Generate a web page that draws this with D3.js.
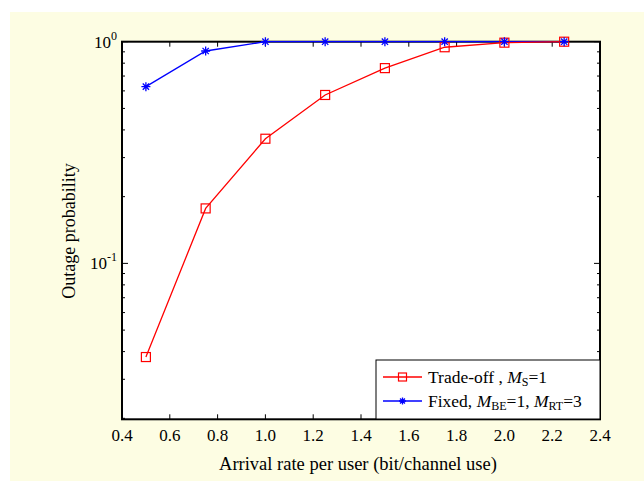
<!DOCTYPE html>
<html><head><meta charset="utf-8">
<script src="https://cdn.jsdelivr.net/npm/d3@7"></script>
<style>body{margin:0;background:#fff}svg{display:block}text{font-family:"Liberation Serif","Times New Roman",serif;}</style>
</head><body>
<script>
const xValues = [0.5, 0.75, 1.0, 1.25, 1.5, 1.75, 2.0, 2.25];
const tradeOff = [0.0378, 0.177, 0.365, 0.575, 0.76, 0.944, 0.99, 1.0];
const fixedAlloc = [0.627, 0.908, 1.0, 1.0, 1.0, 1.0, 1.0, 1.0];
const xTicks = [0.4, 0.6, 0.8, 1.0, 1.2, 1.4, 1.6, 1.8, 2.0, 2.2, 2.4];
const yMajor = [1, 0.1];
const yMinor = [0.02,0.03,0.04,0.05,0.06,0.07,0.08,0.09,0.2,0.3,0.4,0.5,0.6,0.7,0.8,0.9];

const W = 644, H = 481;
const svg = d3.select("body").append("svg").attr("width", W).attr("height", H);
svg.append("rect").attr("x",10).attr("y",12).attr("width",W-10).attr("height",H-12).attr("fill","#fdfde3");

const L=122, R=600, T=41.7, B=419.3;
const x = d3.scaleLinear().domain([0.4,2.4]).range([L,R]);
const y = d3.scaleLog().domain([0.0198,1]).range([B,T]);

svg.append("rect").attr("x",L).attr("y",T).attr("width",R-L).attr("height",B-T).attr("fill","#fff");

const g = svg.append("g");
const tk = 5, tkm = 3;
xTicks.forEach(v=>{
  g.append("line").attr("x1",x(v)).attr("x2",x(v)).attr("y1",B).attr("y2",B-tk).attr("stroke","#000");
  g.append("line").attr("x1",x(v)).attr("x2",x(v)).attr("y1",T).attr("y2",T+tk).attr("stroke","#000");
  svg.append("text").attr("x",x(v)).attr("y",441).attr("text-anchor","middle").attr("font-size",17).attr("fill","#000").text(v.toFixed(1));
});
yMajor.forEach(v=>{
  g.append("line").attr("x1",L).attr("x2",L+tk+1).attr("y1",y(v)).attr("y2",y(v)).attr("stroke","#000");
  g.append("line").attr("x1",R).attr("x2",R-tk-1).attr("y1",y(v)).attr("y2",y(v)).attr("stroke","#000");
  const e = Math.round(Math.log10(v));
  const t = svg.append("text").attr("x",117).attr("y",y(v)+6).attr("text-anchor","end").attr("font-size",17).attr("fill","#000");
  t.append("tspan").text("10");
  t.append("tspan").attr("dy",-8).attr("font-size",12).text(String(e));
});
yMinor.forEach(v=>{
  g.append("line").attr("x1",L).attr("x2",L+tkm).attr("y1",y(v)).attr("y2",y(v)).attr("stroke","#000");
  g.append("line").attr("x1",R).attr("x2",R-tkm).attr("y1",y(v)).attr("y2",y(v)).attr("stroke","#000");
});
g.append("rect").attr("x",L).attr("y",T).attr("width",R-L).attr("height",B-T).attr("fill","none").attr("stroke","#000").attr("stroke-width",2);

const line = d3.line().x(d=>x(d[0])).y(d=>y(d[1]));
const redData = xValues.map((v,i)=>[v,tradeOff[i]]);
const blueData = xValues.map((v,i)=>[v,fixedAlloc[i]]);
const red="#ff0000", blue="#0000ff";

function star(sel, cx, cy, s){
  sel.append("path").attr("d",`M${cx-s},${cy}H${cx+s}M${cx},${cy-s}V${cy+s}M${cx-s*0.7},${cy-s*0.7}L${cx+s*0.7},${cy+s*0.7}M${cx-s*0.7},${cy+s*0.7}L${cx+s*0.7},${cy-s*0.7}`)
    .attr("stroke",blue).attr("stroke-width",1.3).attr("fill","none");
}
function square(sel, cx, cy, s){
  sel.append("rect").attr("x",cx-s).attr("y",cy-s).attr("width",2*s).attr("height",2*s).attr("fill","none").attr("stroke",red).attr("stroke-width",1.2);
}

svg.append("path").datum(blueData).attr("d",line).attr("fill","none").attr("stroke",blue).attr("stroke-width",1.3);
svg.append("path").datum(redData).attr("d",line).attr("fill","none").attr("stroke",red).attr("stroke-width",1.3);
redData.forEach(d=>square(svg, x(d[0]), y(d[1]), 4.5));
blueData.forEach(d=>star(svg, x(d[0]), y(d[1]), 4.5));

const lg = svg.append("g");
lg.append("rect").attr("x",376).attr("y",360).attr("width",224).attr("height",59).attr("fill","#fff").attr("stroke","#000").attr("stroke-width",1);
lg.append("line").attr("x1",383).attr("x2",422).attr("y1",377).attr("y2",377).attr("stroke",red).attr("stroke-width",1.3);
square(lg, 402.5, 377, 4);
lg.append("line").attr("x1",383).attr("x2",422).attr("y1",401).attr("y2",401).attr("stroke",blue).attr("stroke-width",1.3);
star(lg, 402.5, 401, 3.5);
const fs = 17.5, sfs = 12;
const t1 = lg.append("text").attr("x",428).attr("y",383).attr("font-size",fs).attr("fill","#000");
t1.append("tspan").text("Trade-off , ");
t1.append("tspan").attr("font-style","italic").text("M");
t1.append("tspan").attr("font-size",sfs).attr("dy",3).text("S");
t1.append("tspan").attr("dy",-3).text("=1");
const t2 = lg.append("text").attr("x",428).attr("y",407).attr("font-size",fs).attr("fill","#000");
t2.append("tspan").text("Fixed, ");
t2.append("tspan").attr("font-style","italic").text("M");
t2.append("tspan").attr("font-size",sfs).attr("dy",3).text("BE");
t2.append("tspan").attr("dy",-3).text("=1, ");
t2.append("tspan").attr("font-style","italic").text("M");
t2.append("tspan").attr("font-size",sfs).attr("dy",3).text("RT");
t2.append("tspan").attr("dy",-3).text("=3");

svg.append("text").attr("x",358).attr("y",470).attr("text-anchor","middle").attr("font-size",18.5).attr("fill","#000").text("Arrival rate per user (bit/channel use)");
svg.append("text").attr("transform",`translate(75,231) rotate(-90)`).attr("text-anchor","middle").attr("font-size",18).attr("fill","#000").text("Outage probability");
</script>
</body></html>
